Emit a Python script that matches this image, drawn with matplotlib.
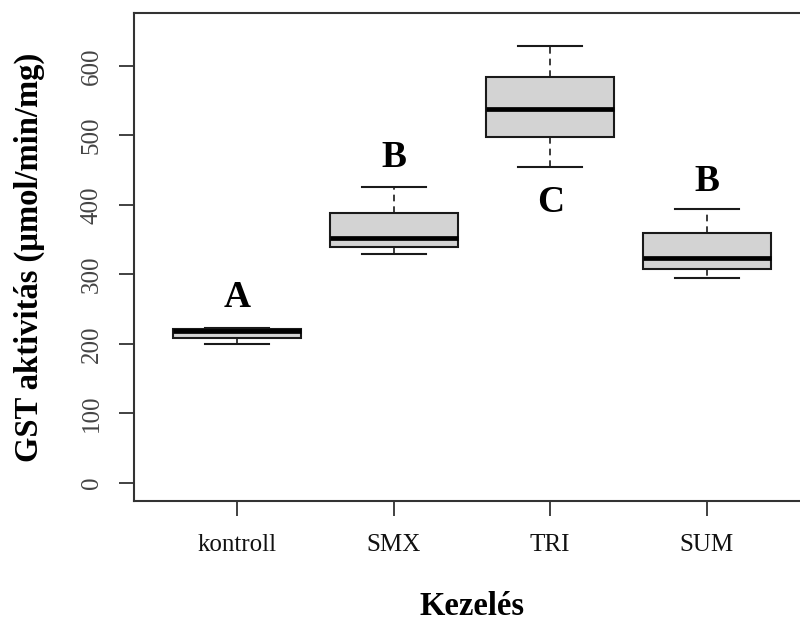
import matplotlib
matplotlib.use("Agg")
import matplotlib.pyplot as plt

# GST aktivitás kezelésenként (boxplot statisztikák)
kezeles = ["kontroll", "SMX", "TRI", "SUM"]
also_bajusz = [200, 329, 454, 295]
also_kvartilis = [209, 340, 497, 308]
median = [218, 353, 538, 323]
felso_kvartilis = [221, 389, 584, 359]
felso_bajusz = [223, 426, 628, 394]

# szignifikancia betűk és azok helye
betuk = ["A", "B", "C", "B"]
betu_y = [253, 455, 390, 420]

y_ticks = [0, 100, 200, 300, 400, 500, 600]

plt.rcParams["font.family"] = ["Liberation Serif", "DejaVu Serif"]

fig = plt.figure(figsize=(8, 6.21), dpi=100)
ax = fig.add_axes([0.1675, 0.1932, 0.845, 0.7859])

stats = []
for i in range(len(kezeles)):
    stats.append({
        "label": kezeles[i],
        "whislo": also_bajusz[i],
        "q1": also_kvartilis[i],
        "med": median[i],
        "q3": felso_kvartilis[i],
        "whishi": felso_bajusz[i],
        "fliers": [],
    })

ax.bxp(stats, positions=range(1, 5), widths=0.82, patch_artist=True,
       boxprops=dict(facecolor="#d3d3d3", edgecolor="#1a1a1a", linewidth=1.5),
       medianprops=dict(color="black", linewidth=3.4, solid_capstyle="butt"),
       whiskerprops=dict(color="#1a1a1a", linewidth=1.2, linestyle=(0, (4, 3))),
       capprops=dict(color="#1a1a1a", linewidth=1.5),
       capwidths=0.41, showfliers=False)

for i in range(len(betuk)):
    ax.text(i + 1, betu_y[i], betuk[i], ha="center", va="baseline",
            fontsize=27, fontweight="bold")

ax.set_xlim(0.34, 4.66)
ax.set_ylim(-26, 676)
ax.set_yticks(y_ticks)
ax.set_xticks(range(1, 5))
ax.set_xticklabels(kezeles)

for s in ax.spines.values():
    s.set_color("#333333")
    s.set_linewidth(1.5)

ax.tick_params(axis="both", length=11, width=1.3, color="#333333",
               direction="out", labelsize=18)
ax.tick_params(axis="y", labelrotation=90, pad=11.5, labelcolor="#444444")
ax.tick_params(axis="x", pad=13, labelcolor="#111111")
for lab in ax.get_yticklabels():
    lab.set_va("center")

fig.text(29 / 800, 1 - 257 / 621, "GST aktivitás (µmol/min/mg)",
         rotation=90, ha="center", va="center", fontsize=23.5, fontweight="bold")
fig.text(472 / 800, 1 - 615 / 621, "Kezelés", ha="center", va="baseline",
         fontsize=23.5, fontweight="bold")

fig.savefig("out.png", dpi=100)
